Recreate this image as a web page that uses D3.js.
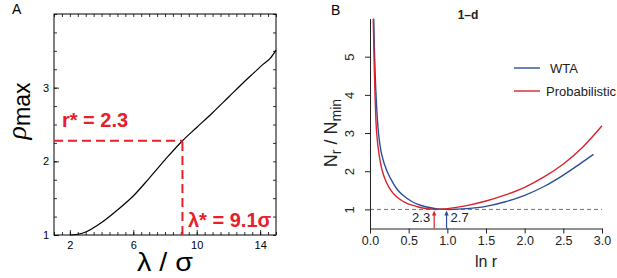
<!DOCTYPE html>
<html><head><meta charset="utf-8">
<script src="https://cdn.jsdelivr.net/npm/d3@7"></script>
<style>body{margin:0;background:#fff}svg{display:block}text{font-family:"Liberation Sans",Arial,Helvetica,sans-serif}</style>
</head><body><svg id="c" width="617" height="278"></svg>
<script>
// ---- Panel A data ----
const lambdaVals = [2.0, 2.5, 3.0, 4.0, 5.0, 6.0, 7.0, 8.0, 9.1, 10.0, 11.0, 12.0, 13.0, 13.6, 14.2, 14.6, 15.0];
const rhoVals    = [1.0, 1.01, 1.04, 1.17, 1.34, 1.53, 1.77, 2.02, 2.28, 2.46, 2.66, 2.87, 3.08, 3.20, 3.32, 3.39, 3.51];
const aXTicks = [2, 6, 10, 14];
const aYTicks = [1, 2, 3];
const lambdaStar = 9.1, rStar = 2.28;

// ---- Panel B data ----
const lnrRed  = [0.042, 0.052, 0.065, 0.086, 0.12, 0.16, 0.21, 0.27, 0.34, 0.42, 0.5, 0.6, 0.7, 0.83, 1.0, 1.25, 1.5, 1.75, 2.0, 2.25, 2.5, 2.75, 3.0];
const nRed    = [6.0, 5.0, 4.0, 3.0, 2.4, 2.0, 1.72, 1.5, 1.34, 1.22, 1.14, 1.08, 1.03, 1.0, 1.02, 1.1, 1.22, 1.38, 1.58, 1.85, 2.19, 2.63, 3.19];
const lnrBlue = [0.048, 0.06, 0.078, 0.11, 0.15, 0.22, 0.29, 0.36, 0.45, 0.53, 0.62, 0.72, 0.85, 0.99, 1.25, 1.5, 1.75, 2.0, 2.25, 2.5, 2.72, 2.89];
const nBlue   = [6.0, 5.0, 4.0, 3.0, 2.45, 2.0, 1.72, 1.5, 1.33, 1.22, 1.13, 1.07, 1.02, 1.0, 1.02, 1.08, 1.2, 1.37, 1.6, 1.9, 2.2, 2.44];
const bXTicks = [0, 0.5, 1.0, 1.5, 2.0, 2.5, 3.0];
const bYTicks = [1, 2, 3, 4, 5];
const seriesNames = ["WTA", "Probabilistic"];
const arrowMarks = [{x: 0.83, label: "2.3"}, {x: 0.99, label: "2.7"}];

const RED_A = "#e8202a", RED = "#d9232b", BLUE = "#2b4d9c";
const svg = d3.select("#c");

// ================= Panel A =================
const xA = d3.scaleLinear().domain([1, 15]).range([54, 276]);
const yA = d3.scaleLinear().domain([1, 4]).range([235, 14]);
const gA = svg.append("g");

const minorX = d3.range(1, 15.01, 0.5);
const minorY = d3.range(1, 4.01, 0.25);
function styleAxis(g){ g.select(".domain").remove(); g.selectAll("line").attr("stroke","#000").attr("stroke-width",0.8); }
gA.append("g").attr("transform",`translate(0,${yA.range()[0]})`).call(d3.axisBottom(xA).tickValues(minorX).tickSize(-3).tickFormat("")).call(styleAxis);
gA.append("g").attr("transform",`translate(0,${yA.range()[1]})`).call(d3.axisTop(xA).tickValues(minorX).tickSize(-3).tickFormat("")).call(styleAxis);
gA.append("g").attr("transform",`translate(${xA.range()[0]},0)`).call(d3.axisLeft(yA).tickValues(minorY).tickSize(-3).tickFormat("")).call(styleAxis);
gA.append("g").attr("transform",`translate(${xA.range()[1]},0)`).call(d3.axisRight(yA).tickValues(minorY).tickSize(-3).tickFormat("")).call(styleAxis);
gA.append("g").attr("transform",`translate(0,${yA.range()[0]})`)
  .call(d3.axisBottom(xA).tickValues(aXTicks).tickSize(-5).tickPadding(6).tickFormat(d3.format("d")))
  .call(styleAxis).selectAll("text").attr("font-size",11).attr("fill","#000");
gA.append("g").attr("transform",`translate(${xA.range()[0]},0)`)
  .call(d3.axisLeft(yA).tickValues(aYTicks).tickSize(-5).tickPadding(5).tickFormat(d3.format("d")))
  .call(styleAxis).selectAll("text").attr("font-size",11).attr("fill","#000");
gA.append("rect").attr("x",xA.range()[0]).attr("y",yA.range()[1])
  .attr("width",xA.range()[1]-xA.range()[0]).attr("height",yA.range()[0]-yA.range()[1])
  .attr("fill","none").attr("stroke","#000").attr("stroke-width",1);

const lineA = d3.line().x((d,i)=>xA(lambdaVals[i])).y((d,i)=>yA(rhoVals[i])).curve(d3.curveCatmullRom.alpha(0.5));
gA.append("path").datum(lambdaVals).attr("d",lineA).attr("fill","none").attr("stroke","#000").attr("stroke-width",1.2);

gA.append("line").attr("x1",xA(1)).attr("x2",xA(lambdaStar)).attr("y1",yA(rStar)).attr("y2",yA(rStar))
  .attr("stroke",RED_A).attr("stroke-width",2).attr("stroke-dasharray","9,5");
gA.append("line").attr("x1",xA(lambdaStar)).attr("x2",xA(lambdaStar)).attr("y1",yA(1)).attr("y2",yA(rStar))
  .attr("stroke",RED_A).attr("stroke-width",2).attr("stroke-dasharray","9,5");
gA.append("text").attr("x",62).attr("y",127).attr("fill",RED_A).attr("font-size",20).attr("font-weight","bold").text("r* = 2.3");
gA.append("text").attr("x",188).attr("y",227).attr("fill",RED_A).attr("font-size",20).attr("font-weight","bold").text("λ* = 9.1σ");

gA.append("text").attr("x",12).attr("y",14).attr("font-size",14).text("A");
gA.append("text").attr("x",165).attr("y",271).attr("text-anchor","middle").attr("font-size",26)
  .attr("textLength",56).attr("lengthAdjust","spacingAndGlyphs").text("λ / σ");
const yl = gA.append("text").attr("transform","translate(26,111) rotate(-90)").attr("text-anchor","middle");
yl.append("tspan").attr("font-size",28).attr("font-style","italic").attr("font-family","'Liberation Serif',serif").text("ρ");
yl.append("tspan").attr("font-size",23).attr("dy",4).text("max");

// ================= Panel B =================
const xB = d3.scaleLinear().domain([0, 3]).range([370, 602]);
const yB = d3.scaleLinear().domain([0.5, 6]).range([228.5, 18.5]);
const gB = svg.append("g");

svg.append("clipPath").attr("id","clipB").append("rect")
  .attr("x",xB(0)).attr("y",yB(6)).attr("width",xB(3)-xB(0)+4).attr("height",yB(0.5)-yB(6));

gB.append("line").attr("x1",xB(0)).attr("x2",xB(3)).attr("y1",yB(1)).attr("y2",yB(1))
  .attr("stroke","#6e6e6e").attr("stroke-width",1).attr("stroke-dasharray","4,3");

const axB = gB.append("g").attr("transform",`translate(0,${yB(0.5)})`)
  .call(d3.axisBottom(xB).tickValues(bXTicks).tickSize(5).tickSizeOuter(0).tickPadding(3).tickFormat(d3.format(".1f")));
axB.selectAll("text").attr("font-size",12.5).attr("fill","#222");
const ayB = gB.append("g").attr("transform",`translate(${xB(0)},0)`)
  .call(d3.axisLeft(yB).tickValues(bYTicks).tickSize(5).tickSizeOuter(0).tickFormat(d3.format("d")));
ayB.selectAll(".tick text").attr("x",null).attr("dy",null)
  .attr("transform","translate(-16,0) rotate(-90)").attr("text-anchor","middle").attr("font-size",13).attr("fill","#222");
[axB, ayB].forEach(a=>{a.select(".domain").attr("stroke","#222"); a.selectAll("line").attr("stroke","#222");});

const lineB = (xs, ys) => d3.line().x((d,i)=>xB(xs[i])).y((d,i)=>yB(ys[i])).curve(d3.curveCatmullRom.alpha(0.5))(xs);
gB.append("path").attr("d",lineB(lnrBlue,nBlue)).attr("clip-path","url(#clipB)")
  .attr("fill","none").attr("stroke",BLUE).attr("stroke-width",1.4);
gB.append("path").attr("d",lineB(lnrRed,nRed)).attr("clip-path","url(#clipB)")
  .attr("fill","none").attr("stroke",RED).attr("stroke-width",1.4);

arrowMarks.forEach((m,i)=>{
  const c = i===0 ? RED : BLUE, x = xB(m.x), y0 = yB(0.5), y1 = yB(1)+1;
  gB.append("line").attr("x1",x).attr("x2",x).attr("y1",y0).attr("y2",y1+4).attr("stroke",c).attr("stroke-width",1.2);
  gB.append("path").attr("d",`M${x},${y1} L${x-2.2},${y1+5} L${x+2.2},${y1+5} Z`).attr("fill",c);
  gB.append("text").attr("x", i===0 ? x-4 : x+4).attr("y",222).attr("text-anchor", i===0 ? "end" : "start")
    .attr("font-size",13).attr("fill","#222").text(m.label);
});

const legY = [68, 91], legC = [BLUE, RED], legTx = [550, 546];
seriesNames.forEach((n,i)=>{
  gB.append("line").attr("x1",514).attr("x2",540).attr("y1",legY[i]).attr("y2",legY[i]).attr("stroke",legC[i]).attr("stroke-width",1.4);
  gB.append("text").attr("x",legTx[i]).attr("y",legY[i]+5).attr("font-size",13).attr("fill","#222").text(n);
});

gB.append("text").attr("x",331).attr("y",15).attr("font-size",14).text("B");
gB.append("text").attr("x",468).attr("y",19).attr("text-anchor","middle").attr("font-size",12).attr("font-weight","bold").attr("fill","#222").text("1\u2013d");
gB.append("text").attr("x",xB(1.5)).attr("y",267).attr("text-anchor","middle").attr("font-size",16).attr("fill","#222").text("ln r");
const ylB = gB.append("text").attr("transform","translate(337,133) rotate(-90)").attr("text-anchor","middle").attr("font-size",18).attr("fill","#222");
ylB.append("tspan").text("N");
ylB.append("tspan").attr("font-size",14).attr("dy",4).text("r");
ylB.append("tspan").attr("dy",-4).text(" / N");
ylB.append("tspan").attr("font-size",14).attr("dy",4).text("min");
</script></body></html>
